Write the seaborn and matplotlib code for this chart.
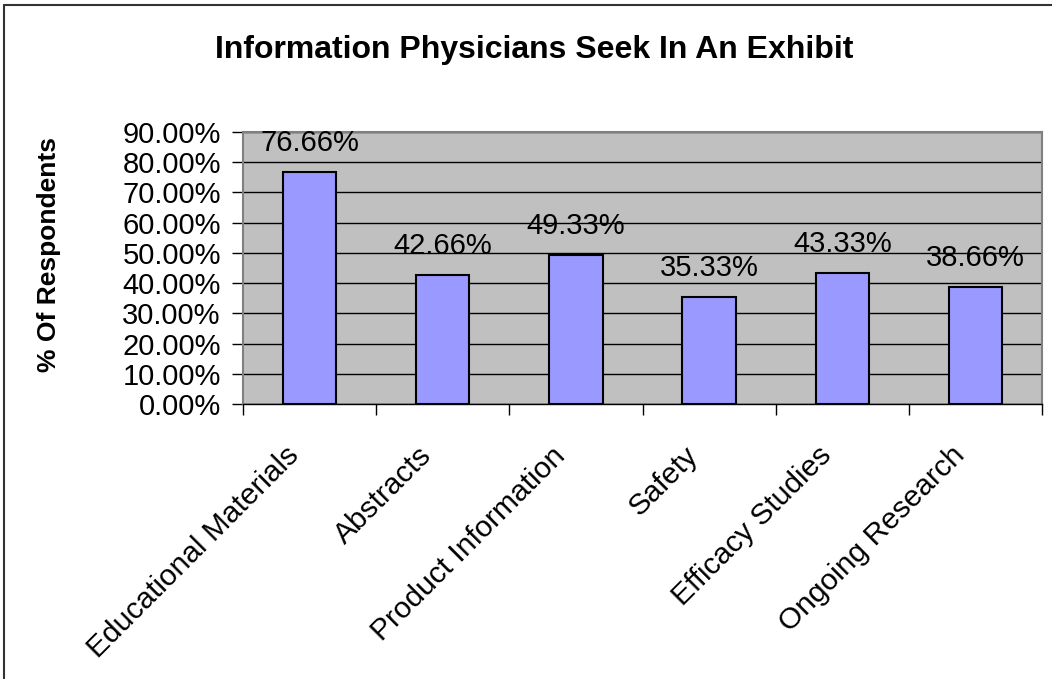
import matplotlib
matplotlib.use("Agg")
import matplotlib.pyplot as plt
import matplotlib.transforms as mtransforms
import seaborn as sns
import numpy as np
import pandas as pd
from matplotlib.ticker import PercentFormatter, FixedLocator

# data
categories = ["Educational Materials", "Abstracts", "Product Information",
              "Safety", "Efficacy Studies", "Ongoing Research"]
shares = [0.7666, 0.4266, 0.4933, 0.3533, 0.4333, 0.3866]
value_labels = ["76.66%", "42.66%", "49.33%", "35.33%", "43.33%", "38.66%"]

df = pd.DataFrame({"Category": categories, "Share": shares})

sns.set_style("white")
plt.rcParams["font.family"] = ["Liberation Sans", "DejaVu Sans"]
plt.rcParams["text.color"] = "black"
plt.rcParams["axes.labelcolor"] = "black"
plt.rcParams["xtick.color"] = "black"
plt.rcParams["ytick.color"] = "black"

fig = plt.figure(figsize=(10.52, 6.79), dpi=100)
ax = fig.add_axes([0.231, 0.405, 0.7595, 0.4007])

ax.set_facecolor("#C0C0C0")
sns.barplot(data=df, x="Category", y="Share", color="#9999FF",
            edgecolor="black", linewidth=1.5, width=0.4, saturation=1, ax=ax,
            zorder=3)

ax.set_ylim(0, 0.9)
ax.set_xlim(-0.5, len(categories) - 0.5)
ax.set_yticks(np.arange(0, 0.91, 0.1))
ax.yaxis.set_major_formatter(PercentFormatter(1.0, decimals=2))
ax.grid(axis="y", color="black", linewidth=1, zorder=1)
ax.set_axisbelow(True)

for i, (v, lab) in enumerate(zip(shares, value_labels)):
    ax.text(i, v + 0.05, lab, ha="center", va="bottom", fontsize=21, zorder=4)

ax.tick_params(axis="y", direction="out", length=8, width=1, color="black",
               labelsize=21, pad=8, left=True)
ax.set_xticks(range(len(categories)))
ax.set_xticklabels(categories, rotation=45, ha="right", va="center",
                   rotation_mode="anchor", fontsize=21.5)
ax.tick_params(axis="x", which="major", length=0, pad=34)
shift = mtransforms.ScaledTranslation(-15 / 100, 0, fig.dpi_scale_trans)
for lbl in ax.get_xticklabels():
    lbl.set_transform(lbl.get_transform() + shift)
ax.xaxis.set_minor_locator(FixedLocator(np.arange(-0.5, len(categories), 1)))
ax.tick_params(axis="x", which="minor", direction="out", length=8, width=1,
               color="black", bottom=True)

for side in ["top", "right", "left"]:
    ax.spines[side].set_color("#808080")
    ax.spines[side].set_linewidth(1.5)
ax.spines["bottom"].set_color("black")
ax.spines["bottom"].set_linewidth(1)

ax.set_xlabel("")
ax.set_ylabel("% Of Respondents", fontsize=19, fontweight="bold")
ax.yaxis.set_label_coords(-0.228, 0.551)
fig.text(0.508, 0.926, "Information Physicians Seek In An Exhibit", ha="center",
         va="center", fontsize=23, fontweight="bold")

# outer chart border (top and left edges visible)
fig.add_artist(plt.Line2D([4 / 1052, 4 / 1052], [0, 1 - 5 / 679],
                          color="#333333", linewidth=1.5))
fig.add_artist(plt.Line2D([4 / 1052, 1], [1 - 5 / 679, 1 - 5 / 679],
                          color="#333333", linewidth=1.5))

fig.savefig("out.png", dpi=100)
